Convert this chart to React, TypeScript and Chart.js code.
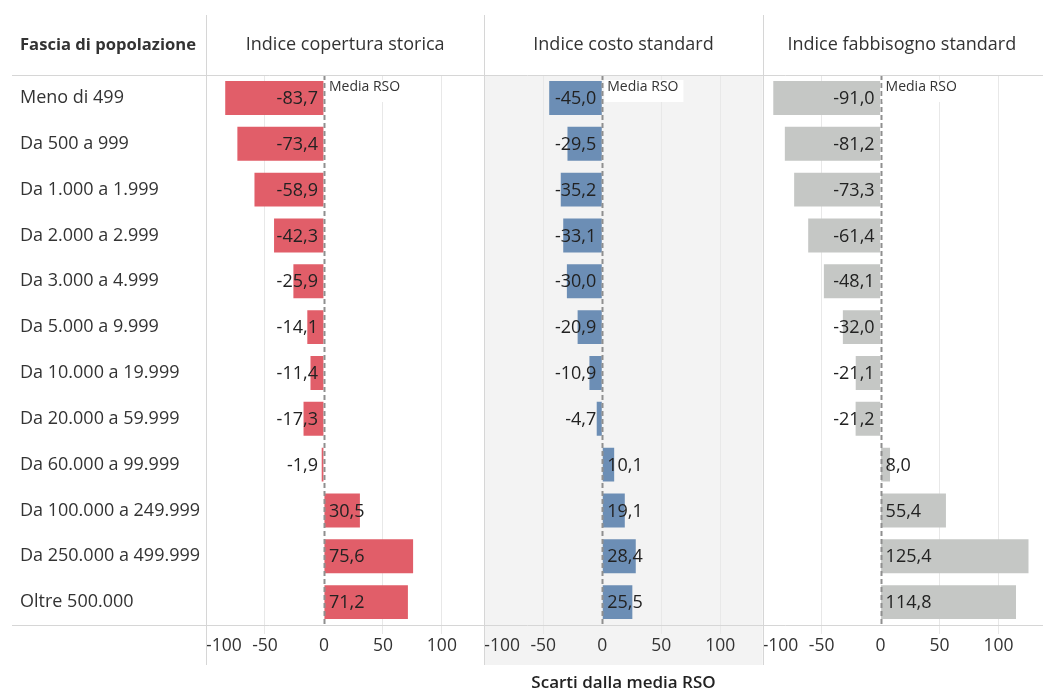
import { useEffect, useRef } from "react";
import { Chart, registerables } from "chart.js";

Chart.register(...registerables);

const categories = [
  "Meno di 499",
  "Da 500 a 999",
  "Da 1.000 a 1.999",
  "Da 2.000 a 2.999",
  "Da 3.000 a 4.999",
  "Da 5.000 a 9.999",
  "Da 10.000 a 19.999",
  "Da 20.000 a 59.999",
  "Da 60.000 a 99.999",
  "Da 100.000 a 249.999",
  "Da 250.000 a 499.999",
  "Oltre 500.000",
];

const storica = [-83.7, -73.4, -58.9, -42.3, -25.9, -14.1, -11.4, -17.3, -1.9, 30.5, 75.6, 71.2];
const costo = [-45.0, -29.5, -35.2, -33.1, -30.0, -20.9, -10.9, -4.7, 10.1, 19.1, 28.4, 25.5];
const fabbisogno = [-91.0, -81.2, -73.3, -61.4, -48.1, -32.0, -21.1, -21.2, 8.0, 55.4, 125.4, 114.8];

const panelTitles = ["Indice copertura storica", "Indice costo standard", "Indice fabbisogno standard"];
const headerLabel = "Fascia di popolazione";
const axisTitle = "Scarti dalla media RSO";
const refLabel = "Media RSO";
const tickValues = [-100, -50, 0, 50, 100];
const axisMin = -100;
const axisMax = 136;

const FONT = "'Open Sans', sans-serif";
const TEXT = "#333333";
const LINE = "#d6d6d6";
const colors = ["#e15e69", "#6c8eb5", "#c5c7c5"];
const axisIds = ["x1", "x2", "x3"];

const fmt = (v: number) => v.toFixed(1).replace(".", ",");

const decorPlugin = {
  id: "decor",
  beforeDraw(chart: any) {
    const { ctx, chartArea } = chart;
    ctx.save();
    ctx.fillStyle = "#ffffff";
    ctx.fillRect(0, 0, chart.width, chart.height);
    const x2 = chart.scales.x2;
    ctx.fillStyle = "#f3f3f3";
    ctx.fillRect(x2.left, chartArea.top, x2.right - x2.left, 665 - chartArea.top);
    ctx.restore();
  },
  afterDatasetsDraw(chart: any) {
    const { ctx, chartArea } = chart;
    ctx.save();
    axisIds.forEach((id) => {
      const s = chart.scales[id];
      const z = Math.round(s.getPixelForValue(0)) + 0.5;
      ctx.strokeStyle = "#8f8f8f";
      ctx.lineWidth = 2;
      ctx.setLineDash([5, 3]);
      ctx.beginPath();
      ctx.moveTo(z, chartArea.top);
      ctx.lineTo(z, chartArea.bottom);
      ctx.stroke();
    });
    ctx.setLineDash([]);
    ctx.font = `18px ${FONT}`;
    ctx.fillStyle = "#222222";
    ctx.textBaseline = "middle";
    chart.data.datasets.forEach((ds: any, di: number) => {
      const meta = chart.getDatasetMeta(di);
      const s = chart.scales[axisIds[di]];
      const z = s.getPixelForValue(0);
      meta.data.forEach((bar: any, i: number) => {
        const v = ds.data[i];
        if (v < 0) {
          ctx.textAlign = "right";
          ctx.fillText(fmt(v), z - 6, bar.y + 1);
        } else {
          ctx.textAlign = "left";
          ctx.fillText(fmt(v), z + 5, bar.y + 1);
        }
      });
    });
    ctx.font = `14px ${FONT}`;
    axisIds.forEach((id) => {
      const s = chart.scales[id];
      const z = s.getPixelForValue(0);
      const w = ctx.measureText(refLabel).width;
      ctx.fillStyle = "#ffffff";
      ctx.fillRect(z + 2, chartArea.top + 5, w + 8, 22);
      ctx.fillStyle = TEXT;
      ctx.textAlign = "left";
      ctx.fillText(refLabel, z + 5, chartArea.top + 12);
    });
    ctx.restore();
  },
  afterDraw(chart: any) {
    const { ctx, chartArea } = chart;
    ctx.save();
    ctx.strokeStyle = LINE;
    ctx.lineWidth = 1;
    [chartArea.top, chartArea.bottom].forEach((y: number) => {
      ctx.beginPath();
      ctx.moveTo(12, Math.round(y) + 0.5);
      ctx.lineTo(chart.width, Math.round(y) + 0.5);
      ctx.stroke();
    });
    axisIds.forEach((id) => {
      const s = chart.scales[id];
      const x = Math.round(s.left) + 0.5;
      ctx.beginPath();
      ctx.moveTo(x, 15);
      ctx.lineTo(x, 665);
      ctx.stroke();
    });
    ctx.fillStyle = TEXT;
    ctx.textBaseline = "middle";
    ctx.font = `bold 16.6px ${FONT}`;
    ctx.textAlign = "left";
    ctx.fillText(headerLabel, 20, 45);
    ctx.font = `18px ${FONT}`;
    ctx.textAlign = "center";
    axisIds.forEach((id, i) => {
      const s = chart.scales[id];
      ctx.fillText(panelTitles[i], (s.left + s.right) / 2, 45);
    });
    ctx.restore();
  },
};

function makeXScale(id: string, withTitle: boolean) {
  return {
    type: "linear",
    position: "bottom",
    stack: "panels",
    stackWeight: 1,
    min: axisMin,
    max: axisMax,
    afterBuildTicks: (s: any) => {
      s.ticks = [...tickValues, axisMax].map((v) => ({ value: v }));
    },
    afterFit: (s: any) => {
      s.height = 68;
    },
    grid: {
      color: (c: any) =>
        c.tick && [-50, 50, 100].includes(c.tick.value) ? "#e8e8e8" : "rgba(0,0,0,0)",
      tickLength: 9,
      lineWidth: 1,
    },
    border: { display: false },
    ticks: {
      autoSkip: false,
      maxRotation: 0,
      minRotation: 0,
      align: "inner",
      padding: 2,
      color: TEXT,
      font: { family: FONT, size: 17.5 },
      callback: (v: any) => (tickValues.includes(Number(v)) ? String(v) : ""),
    },
    title: {
      display: withTitle,
      text: axisTitle,
      color: "#222222",
      font: { family: FONT, size: 17, weight: "600" },
      padding: { top: 0, bottom: 0 },
    },
  };
}

export default function App() {
  const canvasRef = useRef<HTMLCanvasElement | null>(null);

  useEffect(() => {
    if (!canvasRef.current) return;
    const series = [storica, costo, fabbisogno];
    const chart = new Chart(canvasRef.current, {
      type: "bar",
      data: {
        labels: categories,
        datasets: series.map((d, i) => ({
          label: panelTitles[i],
          data: d,
          xAxisID: axisIds[i],
          yAxisID: "y",
          backgroundColor: colors[i],
          borderWidth: 0,
          grouped: false,
          barPercentage: 0.74,
          categoryPercentage: 1,
        })),
      },
      options: {
        indexAxis: "y",
        responsive: false,
        animation: false,
        events: [],
        layout: { padding: { left: 20, top: 75, right: 0, bottom: 0 } },
        plugins: { legend: { display: false }, tooltip: { enabled: false } },
        scales: {
          y: {
            type: "category",
            position: "left",
            afterFit: (s: any) => {
              s.width = 186;
            },
            grid: { display: false },
            border: { display: false },
            ticks: {
              crossAlign: "far",
              color: TEXT,
              font: { family: FONT, size: 18 },
            },
          },
          x1: makeXScale("x1", false),
          x2: makeXScale("x2", true),
          x3: makeXScale("x3", false),
        },
      } as any,
      plugins: [decorPlugin],
    } as any);
    return () => chart.destroy();
  }, []);

  return (
    <div style={{ position: "fixed", left: 0, top: 0, width: 1043, height: 693, overflow: "hidden", background: "#fff" }}>
      <canvas ref={canvasRef} width={1043} height={693} style={{ display: "block" }} />
    </div>
  );
}
